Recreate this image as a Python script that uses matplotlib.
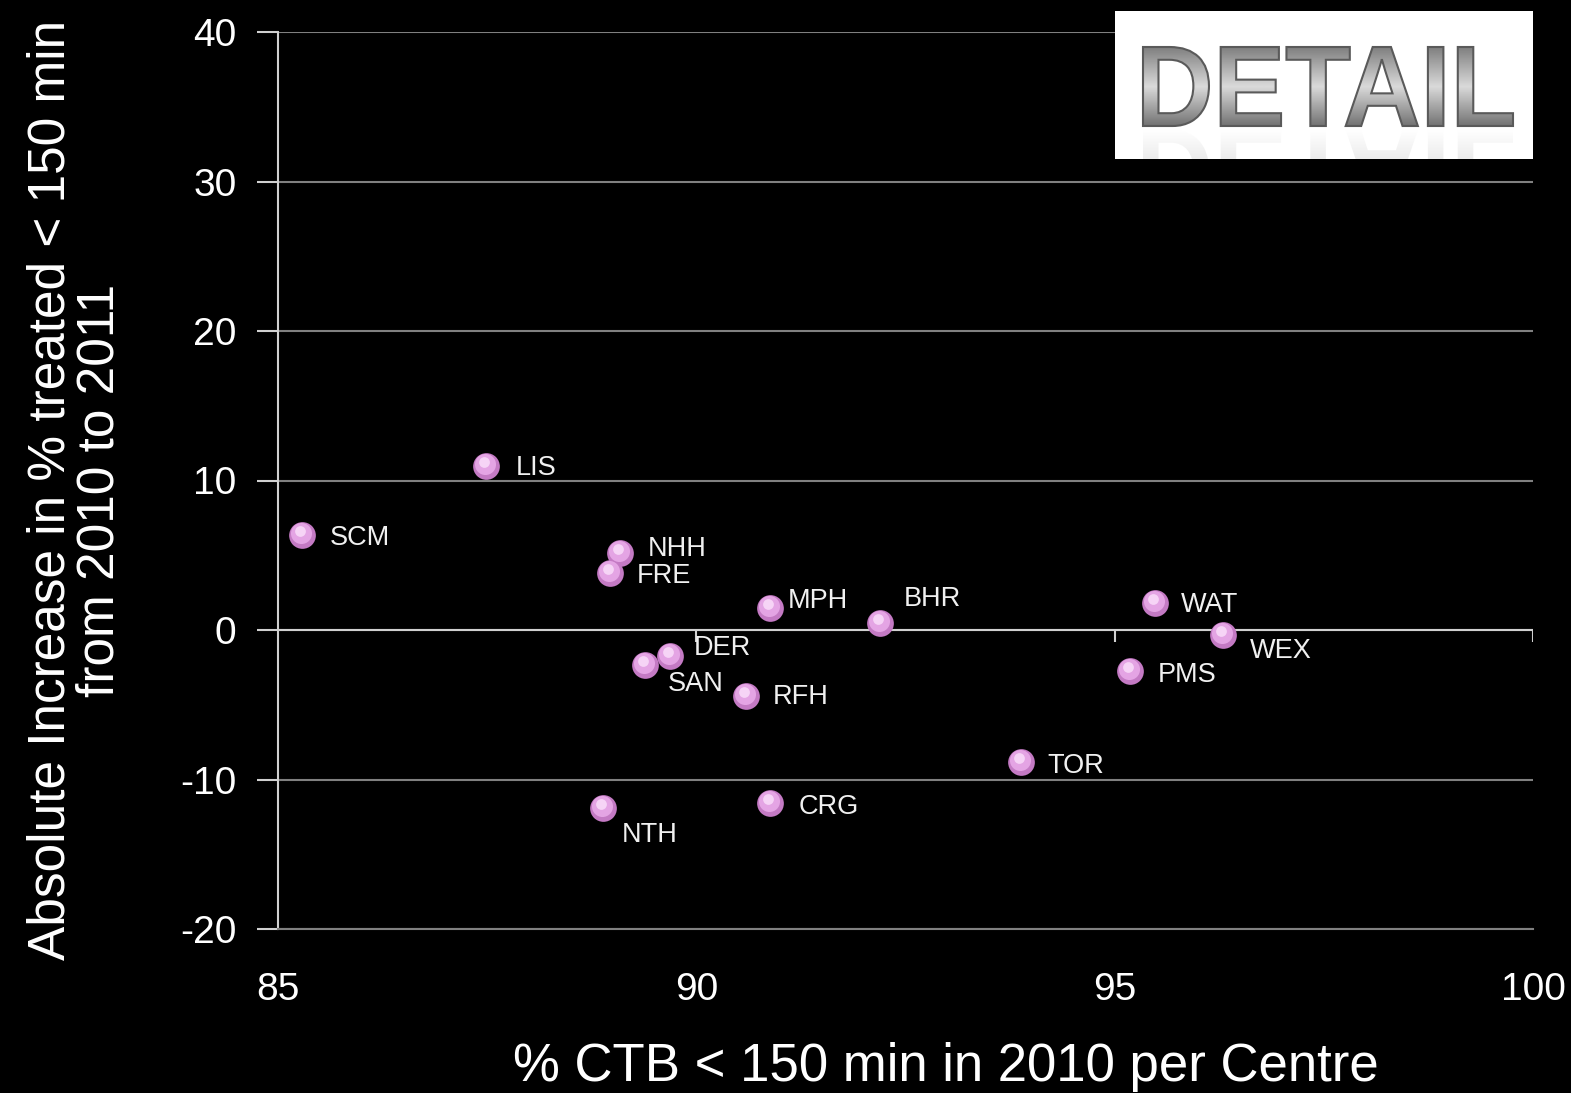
import numpy as np
import matplotlib.pyplot as plt
from matplotlib.textpath import TextPath
from matplotlib.patches import PathPatch
from matplotlib.font_manager import FontProperties
from matplotlib.transforms import Affine2D, offset_copy

plt.rcParams['font.family'] = ['Liberation Sans', 'DejaVu Sans']
plt.rcParams['axes.unicode_minus'] = False

# Data
centres = ['LIS', 'SCM', 'NHH', 'FRE', 'MPH', 'BHR', 'DER', 'SAN',
           'RFH', 'CRG', 'NTH', 'TOR', 'WAT', 'WEX', 'PMS']
ctb_2010 = [87.49, 85.29, 89.09, 88.97, 90.88, 92.19, 89.68, 89.39,
            90.59, 90.88, 88.88, 93.88, 95.48, 96.29, 95.18]
increase = [11.0, 6.35, 5.15, 3.8, 1.5, 0.5, -1.75, -2.35,
            -4.4, -11.6, -11.9, -8.85, 1.8, -0.35, -2.75]
# label offsets (pixels)
lab_dx = [29, 27, 28, 27, 18, 24, 24, 22, 27, 29, 19, 26, 26, 27, 28]
lab_dy = [-2, -3, 4, -3, 7, 24, 8, -19, -1, -4, -27, -4, -2, -16, -4]

xticks = [85, 90, 95, 100]
yticks = [-20, -10, 0, 10, 20, 30, 40]

fig = plt.figure(figsize=(15.71, 10.93), dpi=100, facecolor='black')
ax = fig.add_axes([278/1571, 1 - 929/1093, (1533-278)/1571, (929-32)/1093])
ax.set_facecolor('black')
ax.set_xlim(85, 100)
ax.set_ylim(-20, 40)

ax.set_yticks(yticks)
ax.set_xticks(xticks)
ax.yaxis.grid(True, color='#808080', linewidth=1.5)
ax.set_axisbelow(True)
for s in ['top', 'right']:
    ax.spines[s].set_visible(False)
ax.spines['left'].set_color('#d0d0d0')
ax.spines['left'].set_linewidth(1.5)
ax.spines['bottom'].set_color('#808080')
ax.spines['bottom'].set_linewidth(1.5)
ax.tick_params(axis='y', colors='#d0d0d0', length=15, width=1.5,
               labelsize=28, labelcolor='white', pad=15)
ax.tick_params(axis='x', length=0, labelsize=28, labelcolor='white', pad=31)

# zero line with its tick marks
ax.axhline(0, color='#d0d0d0', linewidth=1.5)
ax.vlines(xticks[1:], -0.8, 0, color='#d0d0d0', linewidth=1.5)

# sphere-like markers
sh1 = offset_copy(ax.transData, fig=fig, x=-1, y=2, units='dots')
sh2 = offset_copy(ax.transData, fig=fig, x=-2, y=4, units='dots')
ax.scatter(ctb_2010, increase, s=370, color='#c47ac4', zorder=3, linewidths=0)
ax.scatter(ctb_2010, increase, s=230, color='#e4a4e4', zorder=4,
           linewidths=0, transform=sh1)
ax.scatter(ctb_2010, increase, s=60, color='#f6d4f6', zorder=5,
           linewidths=0, transform=sh2)

for name, x, y, dx, dy in zip(centres, ctb_2010, increase, lab_dx, lab_dy):
    ax.annotate(name, (x, y), xytext=(dx, dy), textcoords='offset pixels',
                ha='left', va='center', fontsize=19.5, color='#f0f0f0')

fig.text(946/1571, 26/1093, '% CTB < 150 min in 2010 per Centre',
         ha='center', va='center', fontsize=38, color='white')
fig.text(76/1571, 1 - 490/1093,
         'Absolute Increase in % treated < 150 min\nfrom 2010 to 2011',
         ha='center', va='center', rotation=90, fontsize=37, color='white',
         linespacing=1.0)

# "DETAIL" badge
bx = fig.add_axes([1115/1571, 1 - 159/1093, 418/1571, 148/1093])
bx.set_facecolor('white')
bx.set_xticks([])
bx.set_yticks([])
for s in bx.spines.values():
    s.set_visible(False)

tp = TextPath((0, 0), 'DETAIL', size=100,
              prop=FontProperties(family='Liberation Sans', weight='bold'))
ext = tp.get_extents()
x0, x1, y0, y1 = 28, 398, 33, 112
tr = Affine2D().translate(-ext.x0, -ext.y0).scale(
    (x1 - x0) / ext.width, (y1 - y0) / ext.height).translate(x0, y0)
path = tr.transform_path(tp)

# reflection
rtr = Affine2D().translate(0, -y0).scale(1, -1).translate(0, y0 - 4)
rpath = rtr.transform_path(path)
bx.add_patch(PathPatch(rpath, facecolor='#ececec', edgecolor='none', zorder=1))
fade = np.linspace(0, 1, 100).reshape(-1, 1)
bx.imshow(np.dstack([np.ones((100, 1, 3)), fade]), extent=(0, 418, 0, y0 - 4),
          aspect='auto', origin='lower', zorder=2)

# gradient-filled letters
grad = np.concatenate([np.linspace(0.45, 0.85, 50), np.linspace(0.85, 0.5, 50)])
grad = grad.reshape(-1, 1)
im = bx.imshow(grad, cmap='gray', vmin=0, vmax=1, extent=(0, 418, y0, y1),
               aspect='auto', origin='lower', zorder=3)
outline = PathPatch(path, facecolor='none', edgecolor='#5a5a5a',
                    linewidth=1.5, zorder=4)
bx.add_patch(outline)
im.set_clip_path(outline)
bx.set_xlim(0, 418)
bx.set_ylim(0, 148)

fig.savefig('out.png', dpi=100, facecolor='black')
